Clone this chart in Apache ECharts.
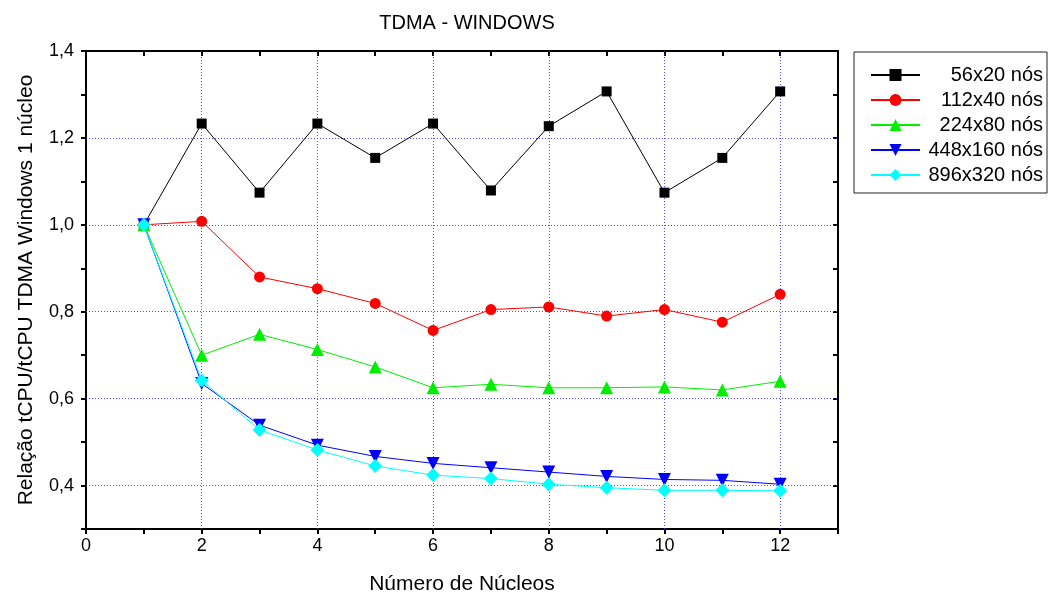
<!DOCTYPE html>
<html lang="pt">
<head>
    <meta charset="utf-8">
    <title>TDMA - WINDOWS</title>
    <script src="https://cdn.jsdelivr.net/npm/echarts@6/dist/echarts.min.js"></script>
    <style>
        html, body { margin: 0; padding: 0; background: #fff; }
        #chartLine { width: 1054px; height: 599px; }
    </style>
</head>
<body>
<div id="chartLine"></div>

<script>
    // dados
    var nucleos = [1, 2, 3, 4, 5, 6, 7, 8, 9, 10, 11, 12];
    var malha56 = [1.0, 1.233, 1.074, 1.233, 1.154, 1.233, 1.079, 1.227, 1.307, 1.074, 1.154, 1.307];
    var malha112 = [1.0, 1.008, 0.880, 0.853, 0.819, 0.757, 0.805, 0.811, 0.790, 0.805, 0.776, 0.840];
    var malha224 = [1.0, 0.700, 0.748, 0.713, 0.673, 0.625, 0.633, 0.625, 0.625, 0.627, 0.620, 0.640];
    var malha448 = [1.0, 0.635, 0.539, 0.493, 0.467, 0.451, 0.441, 0.431, 0.421, 0.414, 0.412, 0.403];
    var malha896 = [1.0, 0.642, 0.528, 0.482, 0.445, 0.424, 0.416, 0.403, 0.395, 0.389, 0.389, 0.388];
    var nomes = ['56x20 nós', '112x40 nós', '224x80 nós', '448x160 nós', '896x320 nós'];
    var xTicks = [0, 2, 4, 6, 8, 10, 12];
    var yTicks = [0.4, 0.6, 0.8, 1.0, 1.2, 1.4];

    function pares(ys) {
        return nucleos.map(function (x, i) { return [x, ys[i]]; });
    }

    var fonte = 'Liberation Sans, Arial, sans-serif';
    var grade = { type: [1, 2], color: '#3a3aff', width: 1, opacity: 0.9 };

    function serie(nome, ys, cor, simbolo, tam, extra) {
        var s = {
            name: nome,
            type: 'line',
            data: pares(ys),
            symbol: simbolo,
            symbolSize: tam,
            color: cor,
            lineStyle: { color: cor, width: 1 },
            itemStyle: { color: cor },
            emphasis: { disabled: true },
            z: 3
        };
        if (extra) s.markLine = extra;
        return s;
    }

    var chartLine = echarts.init(document.getElementById('chartLine'));
    chartLine.setOption({
        animation: false,
        title: {
            text: 'TDMA - WINDOWS',
            left: 462,
            textAlign: 'center',
            top: 8,
            textStyle: { fontFamily: fonte, fontSize: 20, fontWeight: 'normal', color: '#000' }
        },
        legend: {
            data: nomes,
            orient: 'vertical',
            left: 854,
            top: 52,
            padding: [13, 4, 8, 16],
            itemGap: 5,
            itemWidth: 49,
            itemHeight: 15,
            borderColor: '#222',
            borderWidth: 1,
            formatter: function (n) { return '{a|' + n + '}'; },
            textStyle: {
                fontFamily: fonte,
                color: '#000',
                rich: { a: { width: 118, align: 'right', fontSize: 20, lineHeight: 22, fontFamily: fonte } }
            }
        },
        grid: { left: 86, top: 51, right: 216, bottom: 70, outerBoundsMode: 'none', containLabel: false },
        xAxis: [{
            type: 'value',
            min: 0,
            max: 13,
            interval: 1,
            name: 'Número de Núcleos',
            nameLocation: 'middle',
            nameGap: 45,
            nameTextStyle: { fontFamily: fonte, fontSize: 21, color: '#000' },
            axisLine: { show: true, onZero: false, lineStyle: { color: '#000', width: 2 } },
            axisTick: { show: true, inside: false, length: 5, lineStyle: { color: '#000', width: 2 } },
            axisLabel: {
                fontFamily: fonte, fontSize: 18, color: '#000', margin: 8,
                formatter: function (v) { return xTicks.indexOf(v) >= 0 ? String(v) : ''; }
            },
            splitLine: { show: false }
        }, {
            type: 'value',
            position: 'top',
            min: 0,
            max: 13,
            interval: 1,
            axisLine: { show: true, onZero: false, lineStyle: { color: '#000', width: 2 } },
            axisTick: { show: true, inside: true, length: 5, lineStyle: { color: '#000', width: 2 } },
            axisLabel: { show: false },
            splitLine: { show: false }
        }],
        yAxis: [{
            type: 'value',
            min: 0.3,
            max: 1.4,
            interval: 0.1,
            name: 'Relação tCPU/tCPU TDMA Windows 1 núcleo',
            nameLocation: 'middle',
            nameGap: 49,
            nameTextStyle: { fontFamily: fonte, fontSize: 21, color: '#000' },
            axisLine: { show: true, onZero: false, lineStyle: { color: '#000', width: 2 } },
            axisTick: { show: true, inside: false, length: 5, lineStyle: { color: '#000', width: 2 } },
            axisLabel: {
                fontFamily: fonte, fontSize: 18, color: '#000', margin: 12,
                formatter: function (v) {
                    var k = Math.round(v * 10);
                    return (k % 2 === 0 && k >= 4) ? (k / 10).toFixed(1).replace('.', ',') : '';
                }
            },
            splitLine: { show: false }
        }, {
            type: 'value',
            position: 'right',
            min: 0.3,
            max: 1.4,
            interval: 0.1,
            axisLine: { show: true, onZero: false, lineStyle: { color: '#000', width: 2 } },
            axisTick: { show: true, inside: true, length: 5, lineStyle: { color: '#000', width: 2 } },
            axisLabel: { show: false },
            splitLine: { show: false }
        }],
        series: [
            serie(nomes[0], malha56, '#000000', 'rect', 10, {
                silent: true,
                symbol: 'none',
                label: { show: false },
                lineStyle: grade,
                z: 1,
                data: xTicks.filter(function (v) { return v > 0; }).map(function (v) { return { xAxis: v }; })
                    .concat(yTicks.filter(function (v) { return v < 1.4; }).map(function (v) { return { yAxis: v }; }))
            }),
            serie(nomes[1], malha112, '#ff0000', 'circle', 11),
            serie(nomes[2], malha224, '#00ee00', 'triangle', 13),
            serie(nomes[3], malha448, '#0000ff', 'path://M0,0 L10,0 L5,9 Z', 13),
            serie(nomes[4], malha896, '#00ffff', 'diamond', 14)
        ]
    });
</script>
</body>
</html>
